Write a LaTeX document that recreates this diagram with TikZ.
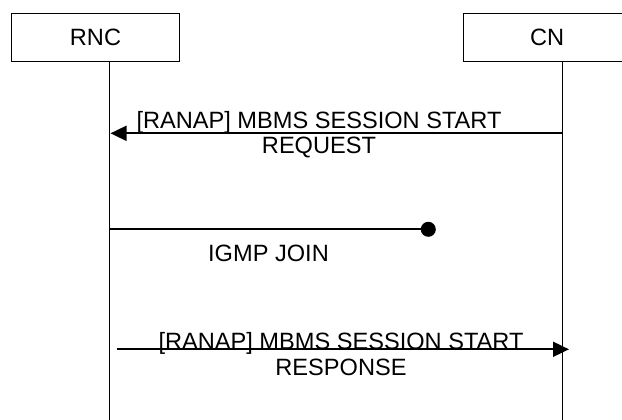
\documentclass[tikz,border=0pt]{standalone}
\usepackage{fontspec}
\setmainfont{Liberation Sans}
\usetikzlibrary{arrows.meta}
\begin{document}
\begin{tikzpicture}[x=1pt,y=-1pt,
  entity/.style={draw, line width=1.3pt, minimum width=167.6pt, minimum height=48.4pt, inner sep=0pt, font=\fontsize{23.6}{27}\selectfont},
  life/.style={line width=1.3pt},
  msg/.style={line width=1.8pt},
  lbl/.style={anchor=base, inner sep=0pt, font=\fontsize{23.6}{27}\selectfont},
  tip/.style={-{Triangle[length=16pt,width=15pt]}},
  blob/.style={circle, fill, inner sep=0pt, minimum size=15pt}
]
\useasboundingbox (0,0) rectangle (622,420);
\clip (0,0) rectangle (622,420);
\node[entity] (rnc) at (95.5,37.5) {RNC};
\node[entity] (cn) at (547.2,37.5) {CN};
\coordinate (rncb) at (109.3,420);
\coordinate (cnb) at (562.3,420);
\draw[life] (rnc.south -| rncb) -- (rncb);
\draw[life] (cn.south -| cnb) -- (cnb);
% message 1
\coordinate (m1s) at (562.3,133.3);
\coordinate (m1e) at (110.5,133.3);
\draw[msg,tip] (m1s) -- (m1e);
\node[lbl] (m1a) at (319,128.3) {[RANAP] MBMS SESSION START};
\node[lbl] (m1b) at (319,153.3) {REQUEST};
% message 2
\coordinate (m2s) at (109.3,229.3);
\node[blob] (dot) at (428.3,229.3) {};
\draw[msg] (m2s) -- (dot.center);
\node[lbl] (igmp) at (268.5,261.7) {IGMP JOIN};
% message 3
\coordinate (m3s) at (116.7,349.3);
\coordinate (m3e) at (569,349.3);
\draw[msg,tip] (m3s) -- (m3e);
\node[lbl] (m3a) at (341,349.3) {[RANAP] MBMS SESSION START};
\node[lbl] (m3b) at (341,375) {RESPONSE};
\end{tikzpicture}
\end{document}
